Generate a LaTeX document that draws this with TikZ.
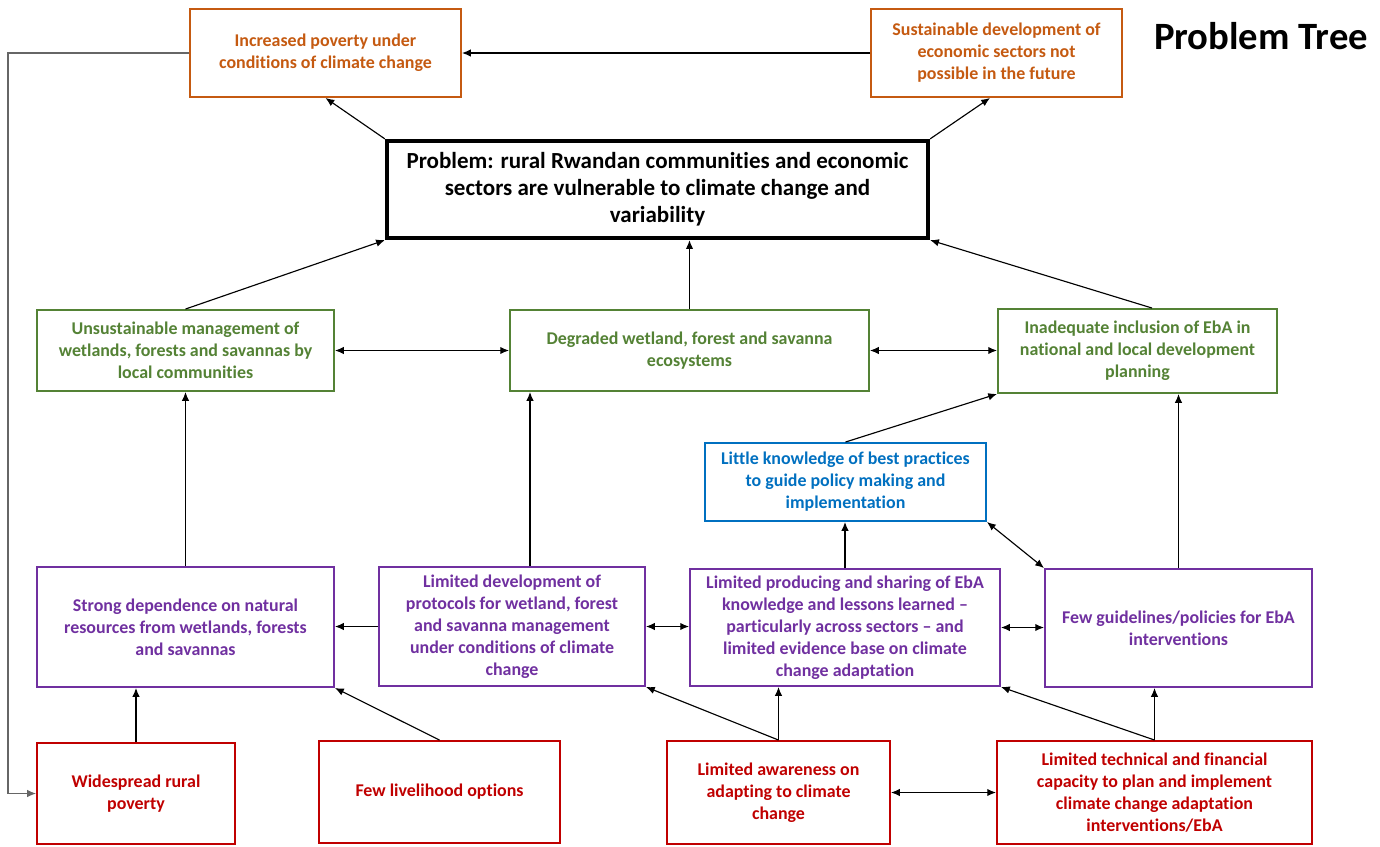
\documentclass[tikz,border=0pt]{standalone}
\usepackage{fontspec}
\setmainfont{Carlito}[Ligatures={NoCommon,TeX}]
\usetikzlibrary{arrows.meta,calc}
\definecolor{corange}{RGB}{197,90,17}
\definecolor{cgreen}{RGB}{84,130,53}
\definecolor{cblue}{RGB}{0,112,192}
\definecolor{cpurple}{RGB}{112,48,160}
\definecolor{cred}{RGB}{192,0,0}
\newcommand\bx[7]{\node[#2, minimum width={(#5-#3)*0.02cm}, minimum height={(#6-#4)*0.02cm}] (#1) at ({(#3+#5)/2},{(#4+#6)/2}) {#7};}
\tikzset{
  basebox/.style={draw, line width=1.1pt, fill=white, align=center, inner sep=0pt,
    font=\fontsize{10.2}{12.5}\selectfont\bfseries},
  obox/.style={basebox, draw=corange, text=corange},
  gbox/.style={basebox, draw=cgreen, text=cgreen},
  bbox/.style={basebox, draw=cblue, text=cblue},
  pbox/.style={basebox, draw=cpurple, text=cpurple},
  rbox/.style={basebox, draw=cred, text=cred},
  probbox/.style={draw=black, line width=2.4pt, fill=white, align=center, inner sep=0pt,
    font=\fontsize{13.1}{15.3}\selectfont\bfseries},
  arr/.style={line width=0.65pt, -{Latex[length=5pt,width=4.2pt]}},
  darr/.style={line width=0.65pt, {Latex[length=5pt,width=4.2pt]}-{Latex[length=5pt,width=4.2pt]}},
  grayline/.style={line width=0.6pt, draw=gray!80!black, -{Latex[length=5pt,width=4.2pt]}}
}
\begin{document}
\begin{tikzpicture}[x=0.02cm,y=-0.02cm]
\useasboundingbox (0,0) rectangle (1380,846);
\bx{incr}{obox}{190}{9}{461}{97}{Increased poverty under\\conditions of climate change}
\bx{sust}{obox}{871}{9}{1122}{97}{Sustainable development of\\economic sectors not\\possible in the future}
\node[font=\fontsize{22}{26}\selectfont\bfseries] (title) at (1261,36) {Problem Tree};
\bx{prob}{probbox}{387}{141}{928}{238}{Problem: rural Rwandan communities and economic\\sectors are vulnerable to climate change and\\variability}
\bx{unsus}{gbox}{37}{310}{334}{391}{Unsustainable management of\\wetlands, forests and savannas by\\local communities}
\bx{deg}{gbox}{510}{310}{869}{391}{Degraded wetland, forest and savanna\\ecosystems}
\bx{inad}{gbox}{998}{309}{1277}{393}{Inadequate inclusion of EbA in\\national and local development\\planning}
\bx{know}{bbox}{705}{443}{986}{521}{Little knowledge of best practices\\to guide policy making and\\implementation}
\bx{strong}{pbox}{37}{567}{334}{687}{Strong dependence on natural\\resources from wetlands, forests\\and savannas}
\bx{prot}{pbox}{379}{567}{645}{686}{Limited development of\\protocols for wetland, forest\\and savanna management\\under conditions of climate\\change}
\bx{prod}{pbox}{690}{569}{1000}{686}{Limited producing and sharing of EbA\\knowledge and lessons learned --\\particularly across sectors -- and\\limited evidence base on climate\\change adaptation}
\bx{guide}{pbox}{1045}{569}{1312}{687}{Few guidelines/policies for EbA\\interventions}
\bx{wide}{rbox}{37}{743}{235}{844}{Widespread rural\\poverty}
\bx{few}{rbox}{319}{741}{560}{843}{Few livelihood options}
\bx{aware}{rbox}{667}{741}{890}{844}{Limited awareness on\\adapting to climate\\change}
\bx{tech}{rbox}{997}{741}{1312}{844}{Limited technical and financial\\capacity to plan and implement\\climate change adaptation\\interventions/EbA}
\coordinate (gl) at (8,53);
\coordinate (c530) at (530,0);
\coordinate (c1152) at (1152,0);
\coordinate (c990) at (990,0);
% top level
\draw[arr] (sust.west) -- (incr.east);
\draw[arr] (prob.north west) -- (incr.south);
\draw[arr] (prob.north east) -- (sust.south -| c990);
% to problem
\draw[arr] (unsus.north) -- (prob.south west);
\draw[arr] (deg.north) -- (deg.north |- prob.south);
\draw[arr] (inad.north -| c1152) -- (prob.south east);
\draw[darr] (unsus.east) -- (unsus.east -| deg.west);
\draw[darr] (deg.east) -- (deg.east -| inad.west);
\draw[arr] (know.north) -- (inad.south west);
% middle level
\draw[arr] (strong.north) -- (strong.north |- unsus.south);
\draw[arr] (prot.north -| c530) -- (deg.south -| c530);
\draw[arr] (guide.north) -- (guide.north |- inad.south);
\draw[arr] (prod.north) -- (prod.north |- know.south);
\draw[darr] (know.south east) -- (guide.north west);
\draw[arr] (prot.west) -- (prot.west -| strong.east);
\draw[darr] (prot.east) -- (prot.east -| prod.west);
\draw[darr] (prod.east) -- (prod.east -| guide.west);
% bottom level
\draw[arr] (wide.north) -- (wide.north |- strong.south);
\draw[arr] (few.north) -- (strong.south east);
\draw[arr] (aware.north) -- (prot.south east);
\draw[arr] (aware.north) -- (aware.north |- prod.south);
\draw[arr] (tech.north) -- (prod.south east);
\draw[arr] (tech.north) -- (tech.north |- guide.south);
\draw[darr] (aware.east) -- (aware.east -| tech.west);
\draw[grayline] (incr.west) -- (gl) |- (wide.west);
\end{tikzpicture}
\end{document}
